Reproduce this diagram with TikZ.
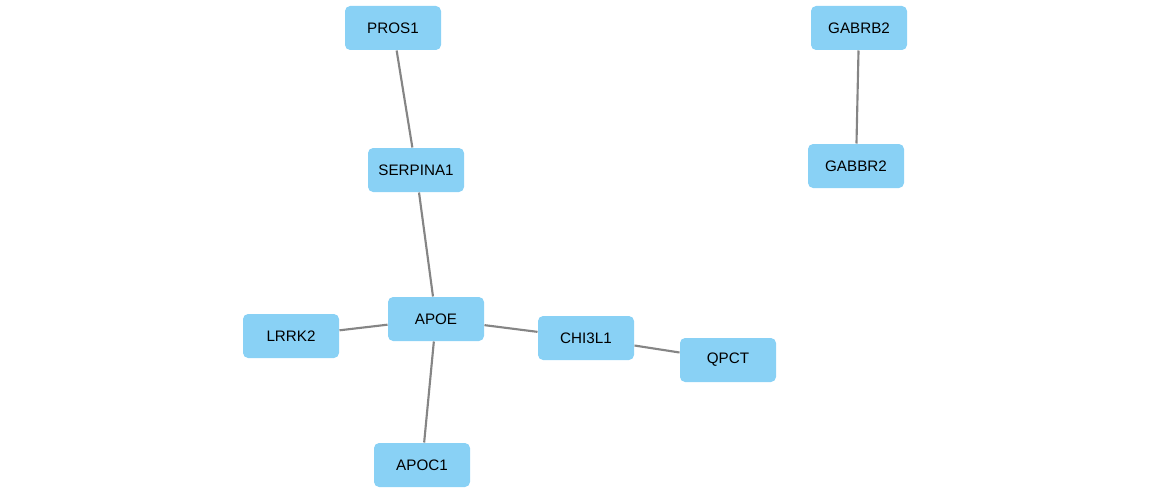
\documentclass[tikz,border=0pt]{standalone}
\usepackage{fontspec}
\setmainfont{Liberation Sans}
\usetikzlibrary{positioning}
\definecolor{genefill}{HTML}{89D1F5}
\definecolor{edgegray}{HTML}{858585}
\tikzset{every picture/.style={line width=0.75pt}}
\tikzset{
    gene/.style={rectangle, rounded corners=3.8pt, fill=genefill, draw=none,
        minimum width=72pt, minimum height=33pt, inner sep=0pt,
        font=\fontsize{11.4}{13}\selectfont},
    link/.style={draw=edgegray, line width=1.6pt}
}

\begin{document}
\begin{tikzpicture}[x=0.75pt, y=-0.75pt]
    % 画布范围
    \useasboundingbox (0,0) rectangle (1150,492);

    % 基因节点
    \node[gene] (pros1)    at (393,28)  {PROS1};
    \node[gene] (gabrb2)   at (859,28)  {GABRB2};
    \node[gene] (serpina1) at (416,170) {SERPINA1};
    \node[gene] (gabbr2)   at (856,166) {GABBR2};
    \node[gene] (apoe)     at (436,319) {APOE};
    \node[gene] (lrrk2)    at (291,336) {LRRK2};
    \node[gene] (chi3l1)   at (586,338) {CHI3L1};
    \node[gene] (qpct)     at (728,360) {QPCT};
    \node[gene] (apoc1)    at (422,465) {APOC1};

    % 相互作用
    \draw[link] (pros1) -- (serpina1);
    \draw[link] (serpina1) -- (apoe);
    \draw[link] (gabrb2) -- (gabbr2);
    \draw[link] (lrrk2) -- (apoe);
    \draw[link] (apoe) -- (chi3l1);
    \draw[link] (chi3l1) -- (qpct);
    \draw[link] (apoe) -- (apoc1);
\end{tikzpicture}
\end{document}
